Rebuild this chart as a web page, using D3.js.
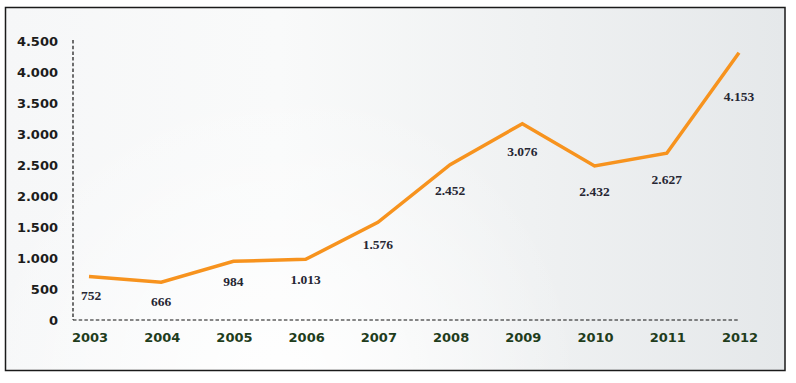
<!DOCTYPE html>
<html><head><meta charset="utf-8">
<script src="https://cdn.jsdelivr.net/npm/d3@7"></script>
<style>html,body{margin:0;padding:0;background:#fff;}svg{display:block;}</style>
</head><body>
<script>
const years = ["2003","2004","2005","2006","2007","2008","2009","2010","2011","2012"];
const values = [752, 666, 984, 1013, 1576, 2452, 3076, 2432, 2627, 4153];
const valueLabels = ["752","666","984","1.013","1.576","2.452","3.076","2.432","2.627","4.153"];
const yTicks = [0, 500, 1000, 1500, 2000, 2500, 3000, 3500, 4000, 4500];
const yTickLabels = ["0","500","1.000","1.500","2.000","2.500","3.000","3.500","4.000","4.500"];

const W = 796, H = 383;
const svg = d3.select("body").append("svg").attr("width", W).attr("height", H);

const defs = svg.append("defs");
const lg = defs.append("linearGradient").attr("id","bgl")
  .attr("x1","0%").attr("y1","0%").attr("x2","100%").attr("y2","0%");
lg.append("stop").attr("offset","0%").attr("stop-color","#f6f7f8");
lg.append("stop").attr("offset","35%").attr("stop-color","#f9fafa");
lg.append("stop").attr("offset","100%").attr("stop-color","#e5e8ea");
const rg = defs.append("radialGradient").attr("id","bgr")
  .attr("gradientUnits","userSpaceOnUse").attr("cx",280).attr("cy",380).attr("r",300);
rg.append("stop").attr("offset","0%").attr("stop-color","#ffffff").attr("stop-opacity",0.9);
rg.append("stop").attr("offset","100%").attr("stop-color","#ffffff").attr("stop-opacity",0);

svg.append("rect").attr("x",5.5).attr("y",7.5).attr("width",779.5).attr("height",363)
  .attr("fill","url(#bgl)");
svg.append("rect").attr("x",5.5).attr("y",7.5).attr("width",779.5).attr("height",363)
  .attr("fill","url(#bgr)").attr("stroke","#1a1a1a").attr("stroke-width",1.5);

const x = d3.scalePoint().domain(years).range([89, 739]);
const yAxisScale = d3.scaleLinear().domain([0, 4500]).range([320, 41]);
const yLine = d3.scaleLinear().domain([0, 4500]).range([326, 30]);

// dashed axes
svg.append("line").attr("x1",73).attr("x2",73).attr("y1",40).attr("y2",320)
  .attr("stroke","#111").attr("stroke-width",1.2).attr("stroke-dasharray","3.5,2.2");
svg.append("line").attr("x1",73).attr("x2",739).attr("y1",320).attr("y2",320)
  .attr("stroke","#111").attr("stroke-width",1.2).attr("stroke-dasharray","3.5,2.2");

// y tick labels
svg.append("g").selectAll("text").data(yTicks).join("text")
  .attr("x",58).attr("y",d=>yAxisScale(d)).attr("dy","0.36em")
  .attr("text-anchor","end")
  .attr("font-family","DejaVu Sans").attr("font-weight","bold").attr("font-size",13)
  .attr("fill","#1c1c1c")
  .text((d,i)=>yTickLabels[i]);

// x labels
svg.append("g").selectAll("text").data(years).join("text")
  .attr("x",d=>x(d)+1).attr("y",337).attr("dy","0.36em")
  .attr("text-anchor","middle")
  .attr("font-family","DejaVu Sans").attr("font-weight","bold").attr("font-size",13)
  .attr("fill","#1f3d1c")
  .text(d=>d);

// line
const line = d3.line().x((d,i)=>x(years[i])).y(d=>yLine(d));
svg.append("path").datum(values).attr("d",line)
  .attr("fill","none").attr("stroke","#f7931e").attr("stroke-width",3.5)
  .attr("stroke-linejoin","miter");

// value labels
svg.append("g").selectAll("text").data(values).join("text")
  .attr("x",(d,i)=>x(years[i]) + (i===0?2:0))
  .attr("y",(d,i)=>yAxisScale(d) + (i===values.length-1 ? 34 : 22))
  .attr("dy","0.36em")
  .attr("text-anchor","middle")
  .attr("font-family","Liberation Serif").attr("font-weight","bold").attr("font-size",13.5)
  .attr("fill","#262633")
  .text((d,i)=>valueLabels[i]);
</script>
</body></html>
